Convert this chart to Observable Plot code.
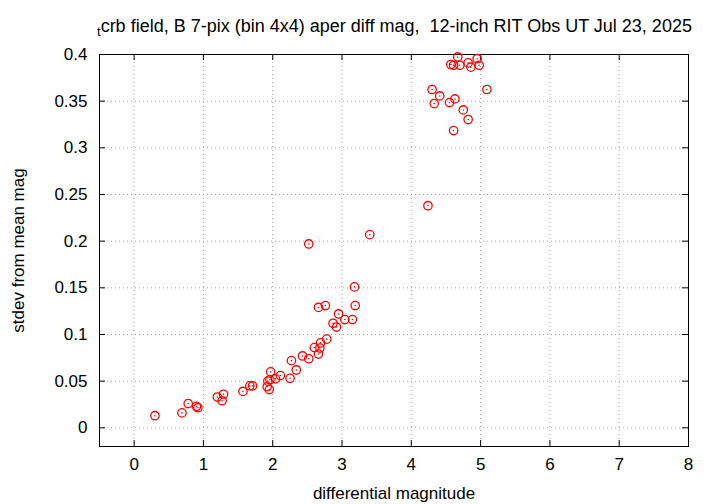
<!DOCTYPE html>
<html><head><meta charset="utf-8">
<script src="https://cdn.jsdelivr.net/npm/d3@7"></script>
<script src="https://cdn.jsdelivr.net/npm/@observablehq/plot@0.6"></script>
<style>body{margin:0;background:#fff}</style>
</head><body><div id="chart"></div>
<script>
const magnitude = [0.30,0.69,0.78,0.90,0.92,1.20,1.27,1.29,1.57,1.67,1.71,1.92,1.95,1.93,1.96,1.97,2.04,2.11,2.25,2.27,2.34,2.43,2.52,2.60,2.66,2.68,2.69,2.78,2.66,2.76,2.87,2.92,2.95,3.04,3.15,3.19,3.18,2.52,3.40,4.24,4.30,4.33,4.41,4.55,4.63,4.61,4.75,4.82,5.09,4.67,4.57,4.61,4.70,4.82,4.86,4.95,4.98];
const stdev = [0.013,0.016,0.026,0.023,0.0215,0.033,0.029,0.036,0.039,0.045,0.045,0.044,0.041,0.050,0.0515,0.060,0.0525,0.056,0.053,0.072,0.062,0.077,0.074,0.086,0.079,0.0855,0.091,0.095,0.129,0.131,0.112,0.108,0.122,0.116,0.116,0.131,0.151,0.197,0.207,0.238,0.3625,0.3474,0.3556,0.3485,0.3524,0.3185,0.3406,0.3303,0.3625,0.3974,0.3893,0.3885,0.3885,0.391,0.3864,0.3955,0.3885];
const xTicks = [0,1,2,3,4,5,6,7,8];
const yTicks = [0,0.05,0.1,0.15,0.2,0.25,0.3,0.35,0.4];
const yTickLabels = ["0","0.05","0.1","0.15","0.2","0.25","0.3","0.35","0.4"];
const titleSub = "t";
const titleMain = "crb field, B 7-pix (bin 4x4) aper diff mag,  12-inch RIT Obs UT Jul 23, 2025";
const xLabel = "differential magnitude";
const yLabel = "stdev from mean mag";

const data = magnitude.map((m, i) => ({m, s: stdev[i]}));
const W = 720, H = 504, mL = 99, mR = 32, mT = 54, mB = 58;
const frameH = H - mT - mB, frameW = W - mL - mR, tk = 6;
const gridStyle = {stroke: "#a0a0a0", strokeOpacity: 1, strokeWidth: 1, strokeDasharray: "1,3"};

const plot = Plot.plot({
  width: W, height: H,
  marginLeft: mL, marginRight: mR, marginTop: mT, marginBottom: mB,
  style: {fontFamily: "'Liberation Sans', Arial, sans-serif", fontSize: "17px", background: "white", color: "black", overflow: "visible"},
  x: {domain: [-0.5, 8]},
  y: {domain: [-0.02, 0.4]},
  marks: [
    Plot.gridX(xTicks.filter(d => d < 8), gridStyle),
    Plot.gridY(yTicks.filter(d => d < 0.4), gridStyle),
    Plot.tickX(xTicks, {x: d => d, insetTop: frameH - tk, stroke: "black"}),
    Plot.tickX(xTicks, {x: d => d, insetBottom: frameH - tk, stroke: "black"}),
    Plot.tickY(yTicks, {y: d => d, insetRight: frameW - tk, stroke: "black"}),
    Plot.tickY(yTicks, {y: d => d, insetLeft: frameW - tk, stroke: "black"}),
    Plot.axisX({ticks: xTicks, tickSize: 0, tickPadding: 11, fontSize: 17, label: xLabel, labelAnchor: "center", labelArrow: "none", labelOffset: 52}),
    Plot.axisY({ticks: yTicks, tickSize: 0, tickPadding: 12, fontSize: 17, tickFormat: (d, i) => yTickLabels[i], label: yLabel, labelAnchor: "center", labelArrow: "none", labelOffset: 88}),
    Plot.frame({stroke: "black", strokeWidth: 1}),
    Plot.dot(data, {x: "m", y: "s", r: 4.2, stroke: "red", strokeWidth: 1.3, fill: "none"}),
    Plot.dot(data, {x: "m", y: "s", r: 0.8, fill: "red", stroke: "none"})
  ]
});
const svg = d3.select(plot);
const t = svg.append("text").attr("x", 97).attr("y", 32).attr("text-anchor", "start").attr("font-size", 18).attr("fill", "black").attr("xml:space", "preserve").style("white-space", "pre");
t.append("tspan").attr("font-size", 13).attr("dy", 4).text(titleSub);
t.append("tspan").attr("font-size", 18).attr("dy", -4).text(titleMain);
document.getElementById("chart").appendChild(plot);
</script>
</body></html>
